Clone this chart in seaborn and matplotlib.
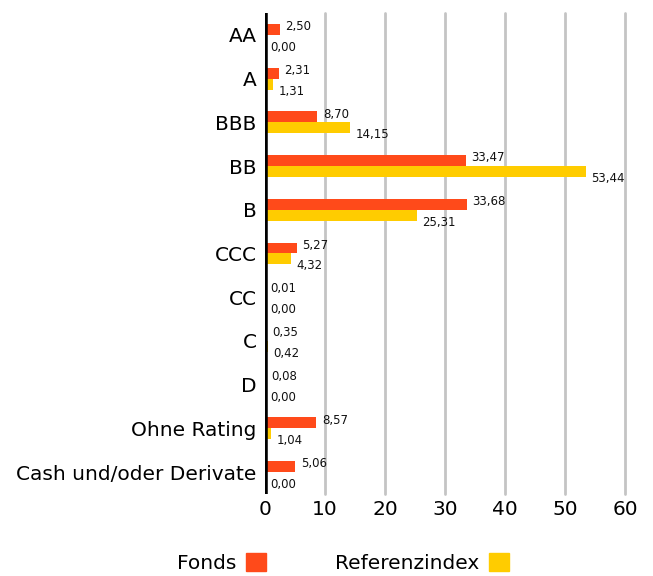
import numpy as np
import pandas as pd
import matplotlib
matplotlib.use('Agg')
from matplotlib import pyplot as plt
import seaborn as sns

categories = ['AA', 'A', 'BBB', 'BB', 'B', 'CCC', 'CC', 'C', 'D',
              'Ohne Rating', 'Cash und/oder Derivate']
fonds = [2.50, 2.31, 8.70, 33.47, 33.68, 5.27, 0.01, 0.35, 0.08, 8.57, 5.06]
referenz = [0.00, 1.31, 14.15, 53.44, 25.31, 4.32, 0.00, 0.42, 0.00, 1.04, 0.00]
series = ['Fonds', 'Referenzindex']
colors = ['#ff4a1a', '#ffcc00']
xticks = [0, 10, 20, 30, 40, 50, 60]

df = pd.DataFrame({
    'Rating': categories * 2,
    'Wert': fonds + referenz,
    'Serie': [series[0]] * len(categories) + [series[1]] * len(categories),
})

sns.set_style('white')
plt.rcParams['font.family'] = ['DejaVu Sans']
plt.rcParams['text.color'] = 'black'

fig = plt.figure(figsize=(6.53, 5.76), dpi=100)
ax = fig.add_axes([265 / 653, 1 - 494 / 576, 360 / 653, 481 / 576])

sns.barplot(data=df, y='Rating', x='Wert', hue='Serie', order=categories,
            hue_order=series, palette=colors, orient='h', width=0.5,
            saturation=1, linewidth=0, ax=ax, legend=False)

# gridlines and the heavy zero line
for t in xticks[1:]:
    ax.axvline(t, color='#c4c4c4', lw=2, zorder=0, clip_on=False)
ax.axvline(0, color='black', lw=4, zorder=3)

# value labels, german decimal comma
for i in range(len(categories)):
    for j, vals in enumerate([fonds, referenz]):
        v = vals[i]
        y = i - 0.125 if j == 0 else i + 0.125
        dy = 2 if j == 0 else -5
        ax.annotate(f'{v:.2f}'.replace('.', ','), xy=(v, y),
                    xytext=(4, dy), textcoords='offset points',
                    ha='left', va='center', fontsize=8.5, color='#111111')

ax.set_xlim(0, 60)
ax.set_ylim(len(categories) - 0.5, -0.5)
ax.set_xticks(xticks)
ax.set_xticklabels([str(t) for t in xticks], fontsize=14.5, color='black')
ax.tick_params(axis='y', labelsize=14.5, labelcolor='black', length=0, pad=6)
ax.tick_params(axis='x', length=0, pad=4)
ax.set_xlabel('')
ax.set_ylabel('')
for s in ax.spines.values():
    s.set_visible(False)

handles = [plt.Rectangle((0, 0), 1, 1, color=c) for c in colors]
fig.legend(handles, series, loc='lower center', bbox_to_anchor=(0.525, -0.026),
           ncol=2, frameon=False, markerfirst=False, fontsize=14.5,
           handlelength=1, handleheight=1, handletextpad=0.5,
           columnspacing=3.4)

fig.savefig('out.png', dpi=100)
